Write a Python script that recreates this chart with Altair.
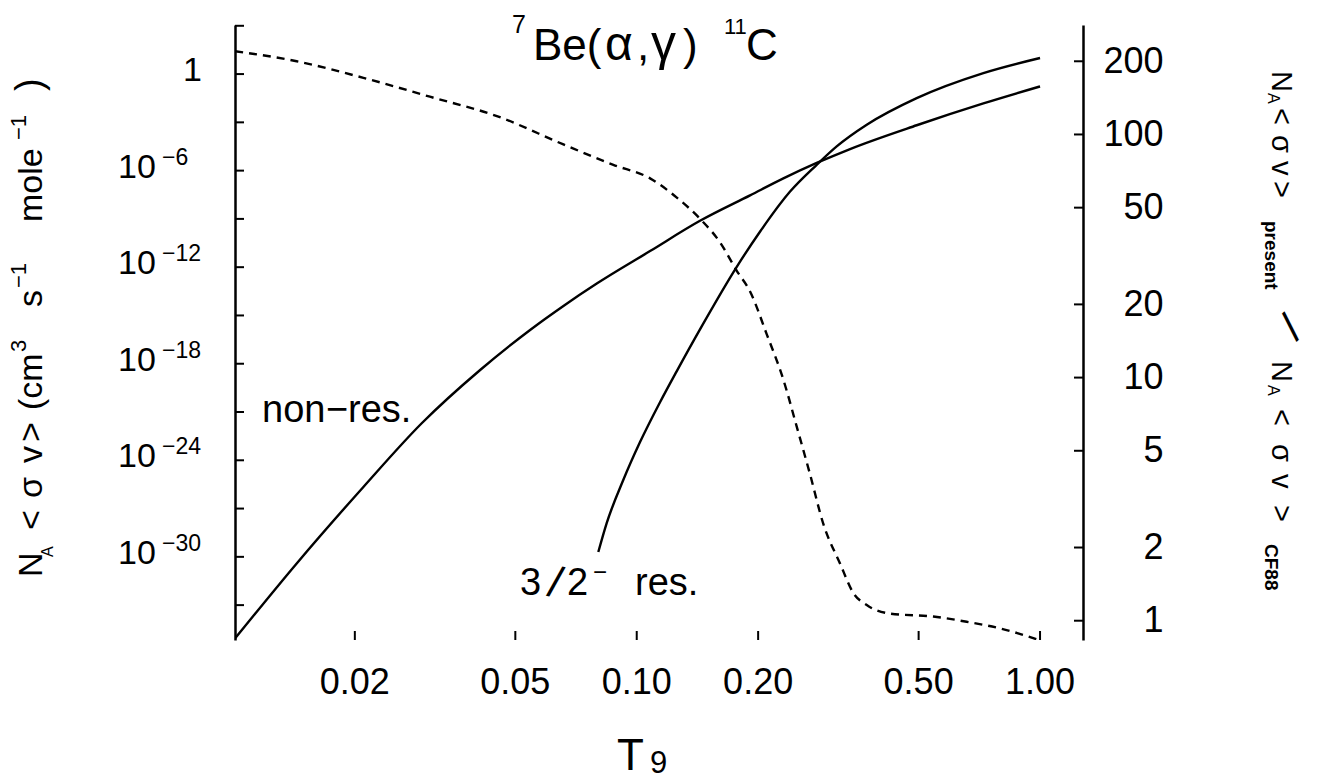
import altair as alt
import pandas as pd

FONT = "Liberation Sans"

# ---------------- data ----------------
nonres_T9 = [0.0101, 0.01435, 0.0210, 0.0293, 0.0409, 0.0544, 0.0658, 0.0796,
             0.1079, 0.1435, 0.191, 0.231, 0.2794, 0.338, 0.4945, 0.7236, 1.0]
nonres_rate = [8.7e-36, 3.9e-31, 2.2e-26, 2.0e-22, 4.1e-19, 1.26e-16, 3.9e-15, 9.6e-14,
               1.0e-11, 7.6e-10, 2.9e-8, 3.3e-7, 3.0e-6, 2.2e-5, 6.6e-4, 1.5e-2, 0.17]

res_T9 = [0.0803, 0.0842, 0.0926, 0.1019, 0.1143, 0.1257, 0.1449, 0.177,
          0.2021, 0.240, 0.2794, 0.3132, 0.3718, 0.4945, 0.7236, 1.0]
res_rate = [2.0e-30, 1.2e-28, 5.9e-26, 1.35e-23, 4.2e-21, 3.5e-19, 2.1e-16, 1.05e-12,
            1.6e-10, 5.0e-8, 2.3e-6, 3.2e-5, 7.1e-4, 3.2e-2, 1.15, 10.0]

ratio_T9 = [0.0101, 0.01435, 0.0210, 0.0307, 0.0450, 0.0658, 0.0875, 0.1079, 0.1257,
            0.1435, 0.1609, 0.177, 0.191, 0.210, 0.231, 0.2492, 0.2690, 0.2902,
            0.3192, 0.3444, 0.3718, 0.4247, 0.5437, 0.6579, 0.796, 1.0]
ratio = [220, 200, 171, 143, 119, 91, 75, 66, 55,
         45, 36, 27.5, 22.6, 15.1, 9.8, 6.3, 4.0, 2.5,
         1.72, 1.30, 1.16, 1.07, 1.04, 0.99, 0.93, 0.83]

x_ticks = [0.02, 0.05, 0.1, 0.2, 0.5, 1.0]
x_tick_labels = ["0.02", "0.05", "0.10", "0.20", "0.50", "1.00"]
left_ticks = [1e3, 1.0, 1e-3, 1e-6, 1e-9, 1e-12, 1e-15, 1e-18, 1e-21, 1e-24,
              1e-27, 1e-30, 1e-33]
left_label_vals = [1e-6, 1e-12, 1e-18, 1e-24, 1e-30]
left_label_exps = ["\u22126", "\u221212", "\u221218", "\u221224", "\u221230"]
right_ticks = [1, 2, 5, 10, 20, 50, 100, 200]

# ---------------- scales ----------------
W, H = 848, 615
xs = alt.Scale(type="log", domain=[0.01009, 1.278], nice=False)
yl = alt.Scale(type="log", domain=[6.8e-36, 1.12e3], nice=False)
yr = alt.Scale(type="log", domain=[0.833, 282], nice=False)

curves = pd.DataFrame({
    "T9": nonres_T9 + res_T9,
    "rate": nonres_rate + res_rate,
    "series": ["non-res."] * len(nonres_T9) + ["3/2- res."] * len(res_T9),
})
ratio_df = pd.DataFrame({"T9": ratio_T9, "ratio": ratio})

curve_layer = alt.Chart(curves).mark_line(
    color="black", strokeWidth=2.4, interpolate="monotone", clip=True
).encode(
    x=alt.X("T9:Q", scale=xs, axis=alt.Axis(
        labels=False, ticks=False, tickSize=0, domainColor="black", domainWidth=2.5,
        grid=False, title=None)),
    y=alt.Y("rate:Q", scale=yl, axis=alt.Axis(
        labels=False, ticks=False, tickSize=0, domainColor="black", domainWidth=2.5,
        grid=False, title=None)),
    detail="series:N",
)

ratio_layer = alt.Chart(ratio_df).mark_line(
    color="black", strokeWidth=2.4, strokeDash=[8, 6], interpolate="monotone", clip=True
).encode(
    x=alt.X("T9:Q", scale=xs, axis=None),
    y=alt.Y("ratio:Q", scale=yr, axis=alt.Axis(
        orient="right", values=right_ticks, labelExpr="format(datum.value, 'd')",
        ticks=False, tickSize=0, labelPadding=80, labelAlign="right",
        labelBaseline="middle", labelFontSize=36, labelFont=FONT, labelColor="black",
        domainColor="black", domainWidth=2.5, grid=False, title=None,
        labelFlush=False, labelOverlap=False)),
)

# inward tick marks
lt = alt.Chart(pd.DataFrame({"v": left_ticks})).mark_rule(color="black", strokeWidth=2).encode(
    y=alt.Y("v:Q", scale=yl, axis=None), x=alt.value(0), x2=alt.value(9))
rt = alt.Chart(pd.DataFrame({"v": right_ticks})).mark_rule(color="black", strokeWidth=2).encode(
    y=alt.Y("v:Q", scale=yr, axis=None), x=alt.value(W - 9), x2=alt.value(W))
bt = alt.Chart(pd.DataFrame({"t": x_ticks})).mark_rule(color="black", strokeWidth=2).encode(
    x=alt.X("t:Q", scale=xs, axis=None), y=alt.value(H - 9), y2=alt.value(H))

# bottom tick labels
x_lab = alt.Chart(pd.DataFrame({"t": x_ticks, "lab": x_tick_labels})).mark_text(
    font=FONT, fontSize=36, align="center", baseline="alphabetic", color="black"
).encode(x=alt.X("t:Q", scale=xs, axis=None), y=alt.value(H + 54), text="lab:N")

# left tick labels with exponents
one_lab = alt.Chart(pd.DataFrame({"v": [1.0]})).mark_text(
    text="1", font=FONT, fontSize=34, align="right", baseline="alphabetic", dy=7, color="black"
).encode(y=alt.Y("v:Q", scale=yl, axis=None), x=alt.value(-33))
ten_lab = alt.Chart(pd.DataFrame({"v": left_label_vals})).mark_text(
    text="10", font=FONT, fontSize=34, align="left", baseline="alphabetic", dy=7, color="black"
).encode(y=alt.Y("v:Q", scale=yl, axis=None), x=alt.value(-117))
exp_lab = alt.Chart(pd.DataFrame({"v": left_label_vals, "e": left_label_exps})).mark_text(
    font=FONT, fontSize=23, align="left", baseline="alphabetic", dy=-6, color="black"
).encode(y=alt.Y("v:Q", scale=yl, axis=None), x=alt.value(-73), text="e:N")

one = pd.DataFrame({"k": [0]})


def txt(s, x, y, size, angle=0, bold=False, align="left", baseline="alphabetic"):
    kw = dict(text=s, fontSize=size, font=FONT, color="black", align=align, baseline=baseline)
    if angle:
        kw["angle"] = angle
    if bold:
        kw["fontWeight"] = "bold"
    return alt.Chart(one).mark_text(**kw).encode(x=alt.value(x), y=alt.value(y))


texts = [
    # title  7Be(α,γ)11C
    txt("7", 277, 8, 25), txt("Be(", 298, 35, 44), txt("\u03b1", 370, 35, 48),
    txt(",", 402, 35, 44), txt("\u03b3", 416, 35, 50), txt(")", 448, 35, 44),
    txt("11", 489, 9, 22), txt("C", 511, 35, 44),
    # x title T9
    txt("T", 382, 745, 44), txt("9", 415, 748, 31),
    # curve labels
    txt("non", 27, 397, 38), txt("\u2212", 91, 397, 38), txt("res.", 113, 397, 38),
    txt("3", 285, 570, 38),
    txt("/", 320, 559, 44, 14, align="center", baseline="middle"),
    txt("2", 332, 570, 38),
    txt("\u2212", 358, 555, 24), txt("res.", 400, 570, 38),
    # left axis title (rotated)
    txt("N", -193, 552, 34, 270), txt("A", -182, 532, 16, 270),
    txt("<", -193, 505, 34, 270), txt("\u03c3", -193, 473, 34, 270),
    txt("v", -193, 438, 34, 270), txt(">", -193, 417, 34, 270),
    txt("(cm", -193, 385, 34, 270), txt("3", -209, 327, 22, 270),
    txt("s", -193, 282, 34, 270), txt("\u22121", -209, 263, 22, 270),
    txt("mole", -193, 197, 34, 270), txt("\u22121", -209, 115, 22, 270),
    txt(")", -193, 66, 38, 270),
    # right axis title (rotated)
    txt("N", 1037, 46, 29, 90), txt("A", 1033, 68, 16, 90),
    txt("<", 1037, 83, 29, 90), txt("\u03c3", 1037, 110, 29, 90),
    txt("v", 1037, 136, 29, 90), txt(">", 1037, 156, 29, 90),
    txt("present", 1030, 196, 19, 90, bold=True),
    txt("/", 1054, 300, 42, 138, align="center", baseline="middle"),
    txt("N", 1037, 336, 29, 90), txt("A", 1033, 360, 16, 90),
    txt("<", 1037, 384, 29, 90), txt("\u03c3", 1037, 419, 29, 90),
    txt("v", 1037, 449, 29, 90), txt(">", 1037, 480, 29, 90),
    txt("CF88", 1030, 519, 19, 90, bold=True),
]

chart = alt.layer(
    curve_layer, ratio_layer, lt, rt, bt, x_lab, one_lab, ten_lab, exp_lab, *texts
).resolve_scale(y="independent").properties(
    width=W, height=H,
    autosize=alt.AutoSizeParams(type="none"),
    padding={"left": 235, "top": 25, "right": 240, "bottom": 142},
    background="white",
).configure_view(stroke=None)

chart.save("out.html", embed_options={"renderer": "svg", "actions": False})
